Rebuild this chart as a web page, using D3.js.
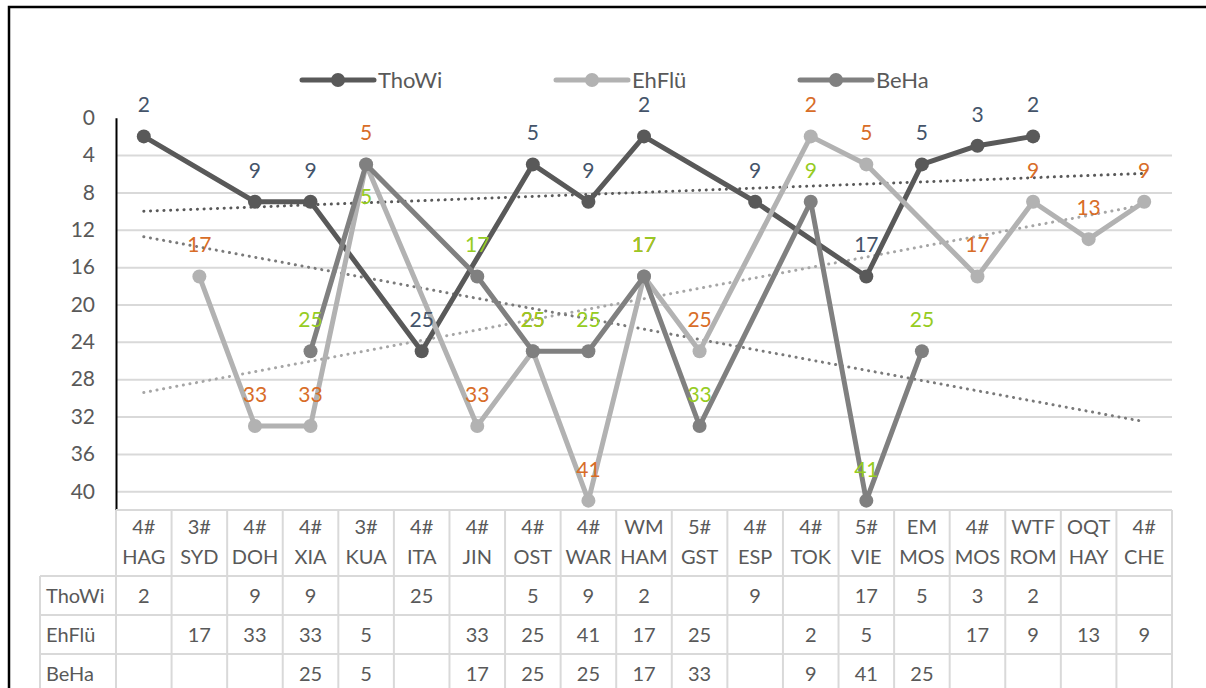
<!DOCTYPE html>
<html>
<head>
<meta charset="utf-8">
<script src="https://cdn.jsdelivr.net/npm/d3@7"></script>
<style>
  html, body { margin: 0; padding: 0; background: #fff; }
  svg { display: block; font-family: Lato, "Open Sans", sans-serif; }
</style>
</head>
<body>
<svg id="chart" width="1206" height="688"></svg>
<script>
// Events (two-line labels: category / venue)
const categories = ["4# HAG", "3# SYD", "4# DOH", "4# XIA", "3# KUA", "4# ITA", "4# JIN", "4# OST", "4# WAR",
  "WM HAM", "5# GST", "4# ESP", "4# TOK", "5# VIE", "EM MOS", "4# MOS", "WTF ROM", "OQT HAY", "4# CHE"];

// Placings per event (null = did not take part)
const thoWi  = [2, null, 9, 9, null, 25, null, 5, 9, 2, null, 9, null, 17, 5, 3, 2, null, null];
const ehFlue = [null, 17, 33, 33, 5, null, 33, 25, 41, 17, 25, null, 2, 5, null, 17, 9, 13, 9];
const beHa   = [null, null, null, 25, 5, null, 17, 25, 25, 17, 33, null, 9, 41, 25, null, null, null, null];

const seriesNames = ["ThoWi", "EhFlü", "BeHa"];
const yTickValues = [0, 4, 8, 12, 16, 20, 24, 28, 32, 36, 40];

const seriesValues = [thoWi, ehFlue, beHa];
const lineColors   = ["#595959", "#b2b2b2", "#808080"];
const trendColors  = ["#595959", "#a6a6a6", "#7a7a7a"];
const labelColors  = ["#44546a", "#d86d28", "#96cc22"];
const textColor = "#595959";
const gridColor = "#d9d9d9";

// labels drawn under their point instead of above (series index, event index)
const labelsBelow = [[2, 4]];

const plot = { left: 116, right: 1172, top: 117.7, bottom: 510 };
const svg = d3.select("#chart");

// outer frame
svg.append("rect").attr("x", 9).attr("y", 7).attr("width", 1240).attr("height", 720)
  .attr("fill", "none").attr("stroke", "#000").attr("stroke-width", 2.5);

const x = d3.scaleBand().domain(d3.range(categories.length)).range([plot.left, plot.right]);
const cx = i => x(i) + x.bandwidth() / 2;
const y = d3.scaleLinear().domain([0, 42]).range([plot.top, plot.bottom]);

// horizontal gridlines
const grid = svg.append("g").attr("transform", `translate(${plot.left},0)`)
  .call(d3.axisLeft(y).tickValues(yTickValues.filter(v => v > 0))
    .tickSize(-(plot.right - plot.left)).tickFormat(""));
grid.select(".domain").remove();
grid.selectAll("line").attr("stroke", gridColor).attr("stroke-width", 2);

// y axis (inverted: rank 1 at the top)
const yAxis = svg.append("g").attr("transform", `translate(${plot.left},0)`)
  .call(d3.axisLeft(y).tickValues(yTickValues).tickSize(0).tickSizeOuter(0).tickPadding(21));
yAxis.select(".domain").attr("stroke", "#000").attr("stroke-width", 2);
yAxis.selectAll("text").attr("fill", textColor).attr("font-size", 21)
  .attr("font-family", "Lato, sans-serif");

// linear trendlines (least squares on event index)
function trend(values) {
  const pts = values.map((v, i) => [i + 1, v]).filter(d => d[1] != null);
  const mx = d3.mean(pts, d => d[0]), my = d3.mean(pts, d => d[1]);
  const sxy = d3.sum(pts, d => (d[0] - mx) * (d[1] - my));
  const sxx = d3.sum(pts, d => (d[0] - mx) ** 2);
  const b = sxy / sxx, a = my - b * mx;
  return [0, values.length - 1].map(i => [cx(i), y(a + b * (i + 1))]);
}
seriesValues.forEach((vals, s) => {
  const t = trend(vals);
  svg.append("line")
    .attr("x1", t[0][0]).attr("y1", t[0][1]).attr("x2", t[1][0]).attr("y2", t[1][1])
    .attr("stroke", trendColors[s]).attr("stroke-width", 3)
    .attr("stroke-linecap", "round").attr("stroke-dasharray", "0.1 6.6");
});

// series lines and markers (gaps are bridged)
const line = d3.line().x(d => cx(d.i)).y(d => y(d.v));
const pointsOf = vals => vals.map((v, i) => ({ i, v })).filter(d => d.v != null);
seriesValues.forEach((vals, s) => {
  const pts = pointsOf(vals);
  svg.append("path").datum(pts).attr("d", line)
    .attr("fill", "none").attr("stroke", lineColors[s]).attr("stroke-width", 5)
    .attr("stroke-linejoin", "round");
  svg.append("g").selectAll("circle").data(pts).join("circle")
    .attr("cx", d => cx(d.i)).attr("cy", d => y(d.v)).attr("r", 7)
    .attr("fill", lineColors[s]);
});

// data labels above each point
const isBelow = (s, i) => labelsBelow.some(([ls, li]) => ls === s && li === i);
seriesValues.forEach((vals, s) => {
  svg.append("g").selectAll("text").data(pointsOf(vals)).join("text")
    .attr("x", d => cx(d.i))
    .attr("y", d => y(d.v) + (isBelow(s, d.i) ? 40 : -24))
    .attr("text-anchor", "middle").attr("font-size", 21)
    .attr("fill", labelColors[s]).text(d => d.v);
});

// legend
const legendX = [302, 556, 800];
seriesNames.forEach((name, s) => {
  const g = svg.append("g").attr("transform", `translate(${legendX[s]},80)`);
  g.append("line").attr("x1", 0).attr("x2", 72).attr("stroke", lineColors[s])
    .attr("stroke-width", 5).attr("stroke-linecap", "round");
  g.append("circle").attr("cx", 36).attr("r", 7).attr("fill", lineColors[s]);
  g.append("text").attr("x", 76).attr("y", 8).attr("font-size", 22)
    .attr("fill", textColor).text(name);
});

// data table below the axis
const table = { labelLeft: 40, headTop: 510, headBottom: 576, rowH: 39 };
const tg = svg.append("g");
const rowTop = r => table.headBottom + r * table.rowH;
const lastRowBottom = rowTop(seriesNames.length);

// header row (event names)
tg.append("line").attr("x1", plot.left).attr("x2", plot.right)
  .attr("y1", table.headTop).attr("y2", table.headTop);
categories.forEach((c, i) => {
  const [top, bottom] = c.split(" ");
  tg.append("text").attr("x", cx(i)).attr("y", 534).attr("text-anchor", "middle").text(top);
  tg.append("text").attr("x", cx(i)).attr("y", 564).attr("text-anchor", "middle").text(bottom);
});
// column separators
d3.range(categories.length + 1).forEach(i => {
  const xx = i < categories.length ? x(i) : plot.right;
  tg.append("line").attr("x1", xx).attr("x2", xx)
    .attr("y1", table.headTop).attr("y2", lastRowBottom);
});
// label column left edge
tg.append("line").attr("x1", table.labelLeft).attr("x2", table.labelLeft)
  .attr("y1", table.headBottom).attr("y2", lastRowBottom);
// row lines and values
d3.range(seriesNames.length + 1).forEach(r => {
  tg.append("line").attr("x1", table.labelLeft).attr("x2", plot.right)
    .attr("y1", rowTop(r)).attr("y2", rowTop(r));
});
seriesNames.forEach((name, r) => {
  const by = rowTop(r) + table.rowH / 2 + 7;
  tg.append("text").attr("x", table.labelLeft + 6).attr("y", by).text(name);
  seriesValues[r].forEach((v, i) => {
    if (v == null) return;
    tg.append("text").attr("x", cx(i)).attr("y", by).attr("text-anchor", "middle").text(v);
  });
});
tg.selectAll("line").attr("stroke", gridColor).attr("stroke-width", 2);
tg.selectAll("text").attr("fill", textColor).attr("font-size", 20);
</script>
</body>
</html>
